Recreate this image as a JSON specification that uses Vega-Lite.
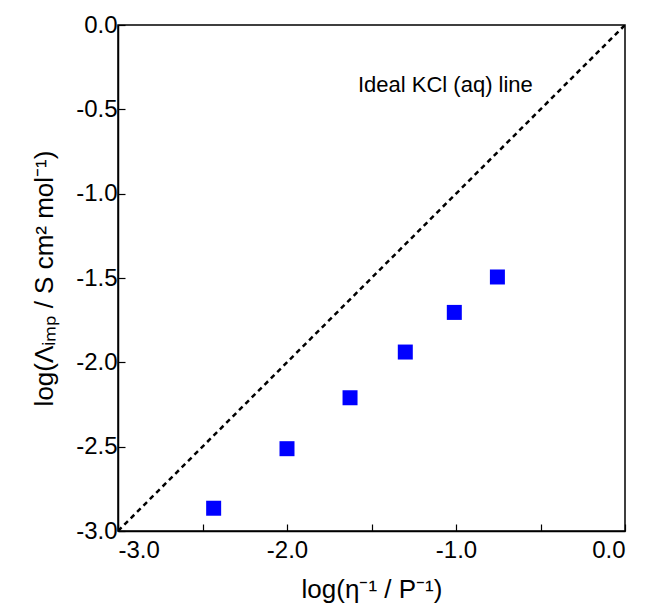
{
  "$schema": "https://vega.github.io/schema/vega-lite/v6.json",
  "width": 507,
  "height": 506,
  "autosize": {"type": "none"},
  "padding": {"left": 118, "top": 25, "right": 22, "bottom": 79},
  "background": "white",
  "config": {
    "font": "Liberation Sans",
    "view": {"stroke": "black", "strokeWidth": 1.5},
    "axis": {
      "domainColor": "black",
      "domainWidth": 1.5,
      "tickColor": "black",
      "tickWidth": 1.2,
      "tickSize": -7,
      "labelFontSize": 24,
      "labelColor": "black",
      "titleFontSize": 26,
      "titleFontWeight": "normal",
      "titleColor": "black",
      "grid": false
    }
  },
  "datasets": {
    "pts": [
      {"x": -2.434, "y": -2.865},
      {"x": -2.0, "y": -2.512},
      {"x": -1.627, "y": -2.21},
      {"x": -1.30, "y": -1.939},
      {"x": -1.01, "y": -1.704},
      {"x": -0.755, "y": -1.494}
    ],
    "ideal": [
      {"x": -3.0, "y": -3.0},
      {"x": 0.0, "y": 0.0}
    ],
    "lbl": [
      {"x": -1.58, "y": -0.356, "t": "Ideal KCl (aq) line"}
    ]
  },
  "layer": [
    {
      "data": {"name": "ideal"},
      "mark": {"type": "line", "color": "black", "strokeWidth": 2.5, "strokeDash": [5, 4], "clip": true},
      "encoding": {
        "x": {
          "field": "x", "type": "quantitative",
          "scale": {"domain": [-3, 0], "nice": false, "zero": false},
          "axis": {
            "values": [-3, -2.5, -2, -1.5, -1, -0.5, 0],
            "labelExpr": "datum.value % 1 === 0 ? replace(format(datum.value, '.1f'), '−', '-') : ''",
            "labelPadding": 14,
            "title": "log(η⁻¹ / P⁻¹)",
            "titlePadding": 14
          }
        },
        "y": {
          "field": "y", "type": "quantitative",
          "scale": {"domain": [-3, 0], "nice": false, "zero": false},
          "axis": {
            "values": [-3, -2.5, -2, -1.5, -1, -0.5, 0],
            "labelExpr": "replace(format(datum.value, '.1f'), '−', '-')",
            "labelPadding": 8,
            "title": "log(Λᵢₘₚ / S cm² mol⁻¹)",
            "titlePadding": 18
          }
        }
      }
    },
    {
      "data": {"name": "pts"},
      "mark": {"type": "square", "color": "#0000ff", "filled": true, "opacity": 1, "size": 225},
      "encoding": {
        "x": {"field": "x", "type": "quantitative"},
        "y": {"field": "y", "type": "quantitative"}
      }
    },
    {
      "data": {"name": "lbl"},
      "mark": {"type": "text", "align": "left", "baseline": "middle", "fontSize": 22, "color": "black"},
      "encoding": {
        "x": {"field": "x", "type": "quantitative"},
        "y": {"field": "y", "type": "quantitative"},
        "text": {"field": "t"}
      }
    }
  ]
}
